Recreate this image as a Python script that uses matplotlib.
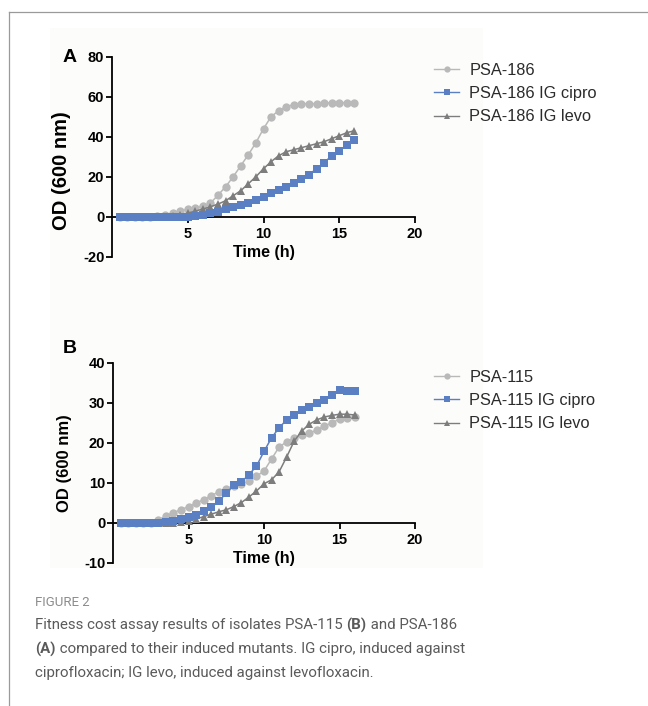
import matplotlib
matplotlib.use("Agg")
import matplotlib.pyplot as plt
from matplotlib.lines import Line2D
from matplotlib.patches import Rectangle

plt.rcParams["axes.unicode_minus"] = False

# ---------------- data ----------------
time_h = [0.5, 1, 1.5, 2, 2.5, 3, 3.5, 4, 4.5, 5, 5.5, 6, 6.5, 7, 7.5, 8,
          8.5, 9, 9.5, 10, 10.5, 11, 11.5, 12, 12.5, 13, 13.5, 14, 14.5, 15, 15.5, 16]

psa186 = [0, 0, 0, 0, 0, 0.2, 0.8, 1.8, 3.0, 3.6, 4.3, 5.2, 6.8, 10.8, 15, 20,
          25.5, 31, 37, 44, 50, 53, 55, 56, 56.5, 56.5, 56.5, 56.8, 57, 57, 57, 57]
psa186_cipro = [0, 0, 0, 0, 0, 0, 0, 0, 0, 0, 0.4, 1.0, 1.7, 2.5, 3.6, 4.8,
                5.8, 7.0, 8.3, 10, 11.6, 13.2, 15, 16.8, 18.8, 21, 24, 27, 30.5, 33, 35.8, 38.3]
psa186_levo = [0, 0, 0, 0, 0, 0, 0, 0.3, 1.0, 1.8, 2.8, 3.8, 5.0, 6.3, 8.0, 10.5,
               13, 16.5, 20, 24, 27.5, 30.5, 32.5, 33.5, 34.5, 35.5, 36.5, 37.5, 39, 40.5, 42, 43]

psa115 = [0, 0, 0, 0, 0, 0.8, 1.7, 2.6, 3.3, 4.1, 5.0, 5.8, 6.8, 7.8, 8.6, 9.3,
          9.8, 10.4, 11.7, 13, 16, 19, 20.3, 21.2, 21.9, 22.5, 23.2, 24.3, 25, 26, 26.3, 26.5]
psa115_cipro = [0, 0, 0, 0, 0, 0.1, 0.3, 0.6, 1.0, 1.5, 2.1, 2.9, 3.9, 5.4, 7.5, 9.4,
                10.2, 12.1, 14.2, 17.9, 21.3, 23.8, 25.8, 27, 28.3, 29, 30, 30.8, 32, 33.3, 33, 33]
psa115_levo = [0, 0, 0, 0, 0, 0, 0, 0, 0.2, 0.5, 1.0, 1.6, 2.2, 2.8, 3.3, 4.1,
               5.1, 6.5, 8.0, 9.8, 10.8, 12.8, 16.5, 20.5, 23, 24.7, 25.8, 26.5, 26.9, 27.2, 27.2, 27]

labels_A = ["PSA-186", "PSA-186 IG cipro", "PSA-186 IG levo"]
labels_B = ["PSA-115", "PSA-115 IG cipro", "PSA-115 IG levo"]
yticks_A = [-20, 0, 20, 40, 60, 80]
yticks_B = [-10, 0, 10, 20, 30, 40]
xticks = [5, 10, 15, 20]

caption_title = "FIGURE 2"
caption_lines = [
    [("Fitness cost assay results of isolates PSA-115 ", False), ("(B)", True), (" and PSA-186", False)],
    [("(A)", True), (" compared to their induced mutants. IG cipro, induced against", False)],
    [("ciprofloxacin; IG levo, induced against levofloxacin.", False)],
]

# ---------------- style ----------------
C_CIRC = "#b9b9b9"
C_SQ = "#5a7fc2"
C_TRI = "#7d7d7d"
BOLD = "Liberation Sans"

W, H = 648, 706
fig = plt.figure(figsize=(W / 100, H / 100), dpi=100)
fig.patch.set_facecolor("white")

# frame lines of the figure box
fig.add_artist(Line2D([9 / W, 9 / W], [0, 1 - 12 / H], color="#9a9a9a", lw=0.9))
fig.add_artist(Line2D([9 / W, 1], [1 - 12 / H, 1 - 12 / H], color="#9a9a9a", lw=0.9))
# faint panel background
fig.add_artist(Rectangle((50 / W, 1 - 568 / H), 433 / W, 540 / H,
                         transform=fig.transFigure, facecolor="#fcfcfa", edgecolor="none", zorder=0))

STYLES = [(C_CIRC, "o", 6.0, 2), (C_SQ, "s", 6.3, 4), (C_TRI, "^", 6.4, 3)]


def panel(rect, series, labels, yticks, letter, letter_xy, leg_anchor, ylab_y, ylab_size):
    ax = fig.add_axes(rect)
    ax.set_facecolor("none")
    for (col, mk, ms, z), ys in zip(STYLES, series):
        ax.plot(time_h, ys, color=col, marker=mk, ms=ms, lw=1.1,
                markeredgewidth=0, zorder=z, clip_on=False)
    ax.set_xlim(0, 20)
    ax.set_ylim(yticks[0], yticks[-1])
    ax.spines["top"].set_visible(False)
    ax.spines["right"].set_visible(False)
    ax.spines["bottom"].set_position(("data", 0))
    for s in ("left", "bottom"):
        ax.spines[s].set_linewidth(1.3)
    ax.set_xticks(xticks)
    ax.set_yticks(yticks)
    ax.tick_params(axis="both", direction="out", length=4, width=1.3, labelsize=10.5)
    ax.tick_params(axis="x", pad=3.5)
    ax.tick_params(axis="y", pad=1.5)
    for t in ax.get_xticklabels() + ax.get_yticklabels():
        t.set_fontfamily(BOLD)
        t.set_fontweight("bold")
    ax.set_ylabel("OD (600 nm)", fontsize=ylab_size, fontweight="bold", fontfamily=BOLD)
    ax.yaxis.set_label_coords(-0.135, ylab_y)
    ax.text(0.5, 0.02, "Time (h)", transform=ax.transAxes, ha="center", va="center",
            fontsize=11.5, fontweight="bold", fontfamily=BOLD)
    fig.text(letter_xy[0] / W, 1 - letter_xy[1] / H, letter, ha="center", va="center",
             fontsize=14, fontweight="bold", fontfamily=BOLD)
    leg_handles = [Line2D([], [], color=col, marker=mk, ms=4.5, lw=1.0, markeredgewidth=0)
                   for (col, mk, ms, z) in STYLES]
    leg = fig.legend(leg_handles, labels, loc="upper left",
                     bbox_to_anchor=(leg_anchor[0] / W, 1 - leg_anchor[1] / H),
                     frameon=False, handlelength=1.55, handletextpad=0.6,
                     labelspacing=0.5, borderpad=0, borderaxespad=0,
                     prop={"family": "Liberation Sans", "size": 11.8})
    for t in leg.get_texts():
        t.set_color("#2b2b2b")
    return ax


panel([112 / W, 1 - 256.7 / H, 303 / W, 200 / H],
      [psa186, psa186_cipro, psa186_levo], labels_A, yticks_A, "A", (70, 57), (434, 63), 0.43, 14.5)
panel([113 / W, 1 - 563 / H, 302 / W, 200 / H],
      [psa115, psa115_cipro, psa115_levo], labels_B, yticks_B, "B", (70, 348), (434, 370), 0.5, 12)

# ---------------- caption ----------------
CAP = ["Roboto", "DejaVu Sans"]
renderer = fig.canvas.get_renderer()


def fit_size(text, target_px, weight="normal"):
    probe = fig.text(0, 0, text, fontsize=10, family=CAP, fontweight=weight)
    w = probe.get_window_extent(renderer=renderer).width
    probe.remove()
    return 10 * target_px / w


cap_size = fit_size("".join(p for p, _ in caption_lines[1]), 432)
title_size = fit_size(caption_title, 55)

fig.text(35 / W, 1 - 602 / H, caption_title, fontsize=title_size, color="#8c8c8c",
         family=CAP, ha="left", va="center")


def rich_line(x_px, y_px, parts, size):
    x = x_px
    for txt, bold in parts:
        t = fig.text(x / W, 1 - y_px / H, txt, fontsize=size, family=CAP,
                     fontweight="bold" if bold else "normal", color="#5a5a5a",
                     ha="left", va="center")
        x += t.get_window_extent(renderer=renderer).width


for i, parts in enumerate(caption_lines):
    rich_line(35, 625 + 24 * i, parts, cap_size)

fig.savefig("out.png", dpi=100)
